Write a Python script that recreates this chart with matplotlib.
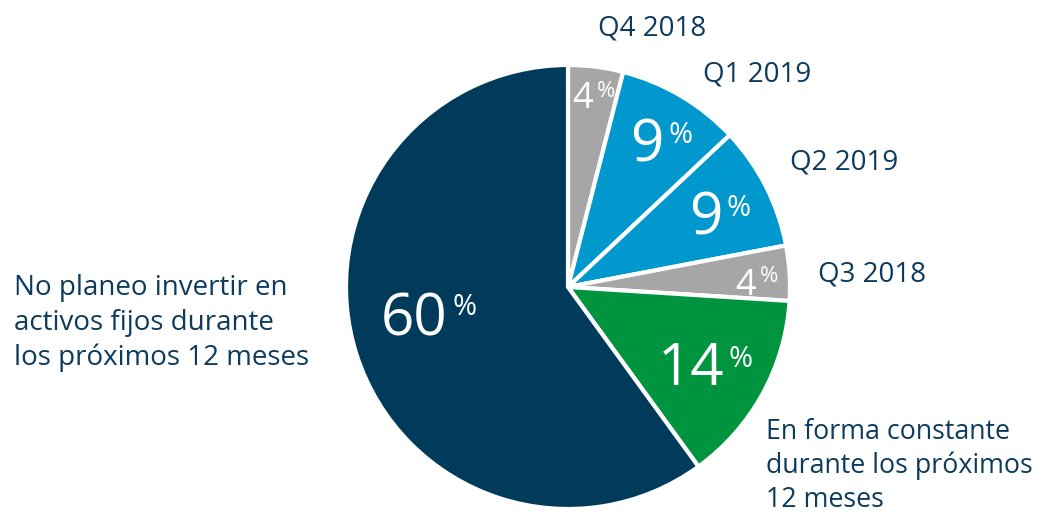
import matplotlib
matplotlib.use("Agg")
import matplotlib.pyplot as plt

# datos del grafico
categorias = ["Q4 2018", "Q1 2019", "Q2 2019", "Q3 2018",
              "En forma constante\ndurante los próximos\n12 meses",
              "No planeo invertir en\nactivos fijos durante\nlos próximos 12 meses"]
valores = [4, 9, 9, 4, 14, 60]
colores = ["#a6a6a6", "#0098cd", "#0098cd", "#a6a6a6", "#00943f", "#003b5c"]

W, H = 1048, 514
texto_color = "#0d3b5e"
plt.rcParams["font.family"] = ["Open Sans", "DejaVu Sans"]

fig = plt.figure(figsize=(W / 100, H / 100), dpi=100)
cx, cy, r = 568, 287, 222
ax = fig.add_axes([(cx - r) / W, (H - cy - r) / H, 2 * r / W, 2 * r / H])
ax.pie(valores, colors=colores, startangle=90, counterclock=False, radius=1,
       wedgeprops=dict(edgecolor="white", linewidth=3))
ax.set_xlim(-1, 1)
ax.set_ylim(-1, 1)
ax.set_aspect("equal")
ax.axis("off")


def px(x, y):
    return x / W, 1 - y / H


# etiquetas externas: (x izquierda, y centro, tamaño, interlineado)
pos_ext = [(598, 28, 20, 1.3), (703, 75, 20, 1.3), (790, 162, 20, 1.3),
           (818, 275, 20, 1.3), (766, 466, 19.3, 1.27), (14, 323, 20, 1.33)]
for cat, (x, y, fs, ls) in zip(categorias, pos_ext):
    fig.text(*px(x, y), cat, ha="left", va="center", fontsize=fs,
             color=texto_color, linespacing=ls)

# etiquetas internas: (union numero/% , linea base, tamaño numero, tamaño %, subida %)
pos_int = [(595, 108, 26, 16, 11), (666, 162, 42, 21, 19), (725, 235, 42, 21, 19),
           (758, 295, 26, 16, 13), (726, 385, 42, 21, 18), (450, 335, 42, 21, 20)]
for v, (x, y, fs, fp, up) in zip(valores, pos_int):
    fig.text(*px(x - 2, y), str(v), ha="right", va="baseline", fontsize=fs,
             color="white")
    fig.text(*px(x + 2, y - up), "%", ha="left", va="baseline", fontsize=fp,
             color="white")

fig.savefig("out.png", dpi=100, facecolor="white")
